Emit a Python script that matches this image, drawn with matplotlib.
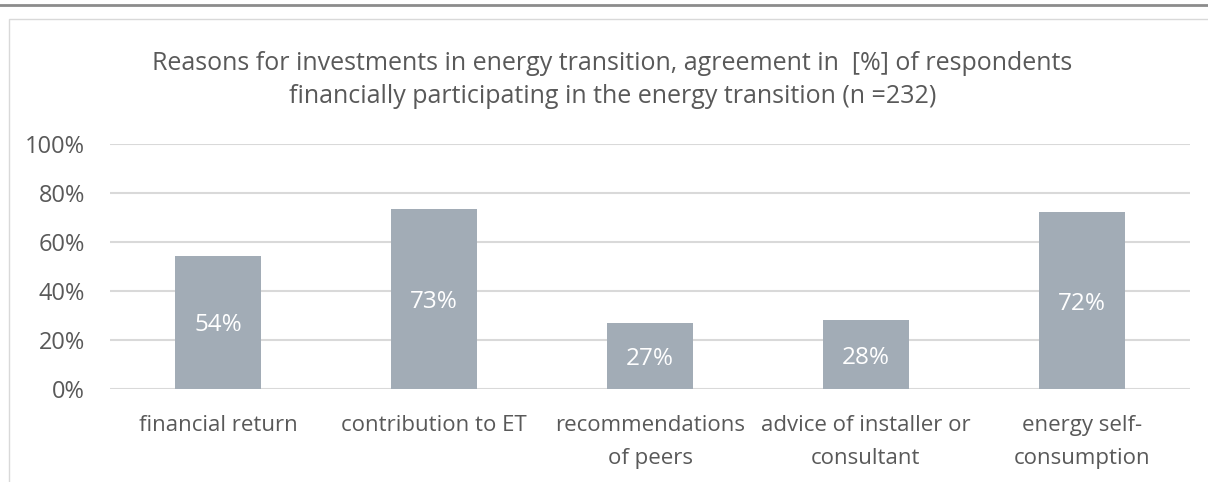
import matplotlib
matplotlib.use("Agg")
import matplotlib.pyplot as plt
from matplotlib.patches import Rectangle
from matplotlib.lines import Line2D

# chart data
categories = ["financial return", "contribution to ET", "recommendations\nof peers",
              "advice of installer or\nconsultant", "energy self-\nconsumption"]
values = [54.4, 73.4, 26.8, 28.1, 72.2]
value_labels = ["54%", "73%", "27%", "28%", "72%"]
yticks = [0, 20, 40, 60, 80, 100]
title = ("Reasons for investments in energy transition, agreement in  [%] of respondents\n"
         "financially participating in the energy transition (n =232)")

W, H = 1208, 482
TEXT = "#595959"
BAR = "#A2ACB6"
GRID = "#D9D9D9"

plt.rcParams['font.family'] = ['Open Sans', 'DejaVu Sans']

fig = plt.figure(figsize=(W / 100, H / 100), dpi=100)

# outer decorations: dark rule on top, light chart frame
fig.add_artist(Line2D([0, 1], [1 - 5 / H, 1 - 5 / H], transform=fig.transFigure,
                      color="#8C8C8C", lw=2))
fig.add_artist(Rectangle((9 / W, -0.1), 1.2, 1 - 19 / H + 0.1, transform=fig.transFigure,
                         fill=False, edgecolor="#D9D9D9", lw=1))

ax = fig.add_axes([110 / W, (H - 389) / H, 1080 / W, 245 / H])
x = range(len(categories))
bars = ax.bar(x, values, width=0.4, color=BAR, zorder=2)
for rect, lab in zip(bars, value_labels):
    ax.text(rect.get_x() + rect.get_width() / 2, rect.get_height() / 2, lab,
            ha="center", va="center_baseline", color="white", fontsize=17.5, zorder=3)

ax.set_xlim(-0.5, len(categories) - 0.5)
ax.set_ylim(0, 100)
ax.set_yticks(yticks)
ax.set_yticklabels([f"{t}%" for t in yticks], fontsize=17)
ax.set_xticks(list(x))
ax.set_xticklabels(categories, fontsize=16, linespacing=1.7)
ax.tick_params(axis="both", length=0, colors=TEXT)
ax.tick_params(axis="x", pad=19)
ax.tick_params(axis="y", pad=18)
ax.grid(axis="y", color=GRID, lw=1.5, zorder=0)
for s in ax.spines.values():
    s.set_visible(False)

fig.text(0.507, 1 - 80 / H, title, ha="center", va="center", color=TEXT,
         fontsize=18, linespacing=1.4)

fig.savefig("out.png", dpi=100)
